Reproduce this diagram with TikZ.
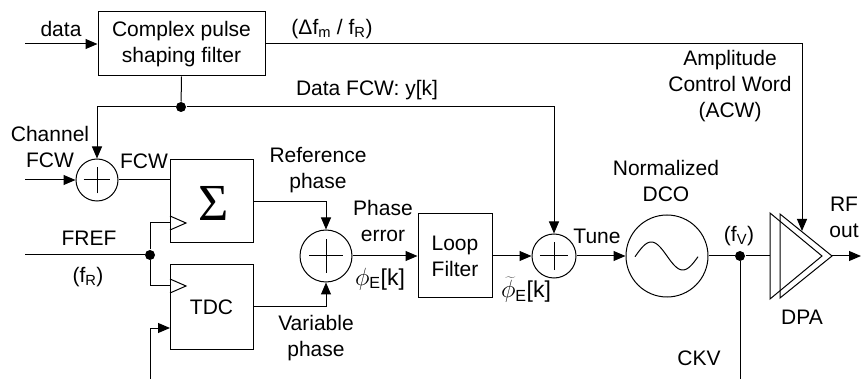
\documentclass[tikz,border=0pt]{standalone}
\usepackage{fontspec}
\setmainfont{Liberation Sans}
\newfontfamily\sigfont{Liberation Serif}
\usetikzlibrary{arrows.meta}
\tikzset{
  blk/.style={draw, inner sep=0},
  dot/.style={circle, fill, inner sep=0, minimum size=10pt},
  lbl/.style={inner sep=0, align=center},
  sumnode/.style={draw, circle, inner sep=0, minimum size=#1,
    path picture={\draw ([xshift=-0.32*#1]path picture bounding box.center) -- ([xshift=0.32*#1]path picture bounding box.center)
      ([yshift=-0.32*#1]path picture bounding box.center) -- ([yshift=0.32*#1]path picture bounding box.center);}},
}
\begin{document}
\begin{tikzpicture}[x=1pt, y=-1pt, line width=1pt, >={Triangle[length=12pt,width=10pt]},
  font=\fontsize{21}{26}\selectfont]
\useasboundingbox (0,0) rectangle (862,379);
% blocks
\node[blk, minimum width=167pt, minimum height=64pt, align=center] (filt) at (181.5,44) {Complex pulse\\shaping filter};
\node[blk, minimum size=83pt] (acc) at (211.5,201.5) {};
\node[inner sep=0] (sig) at (214,203) {\sigfont\fontsize{52}{52}\selectfont Σ};
\node[blk, minimum width=83pt, minimum height=84pt] (tdc) at (211.5,307) {TDC};
\node[blk, minimum width=74pt, minimum height=84pt, align=center] (lf) at (455,256) {Loop\\Filter};
\node[sumnode=42pt] (add1) at (97,180) {};
\node[sumnode=52pt] (pd) at (326,256) {};
\node[sumnode=44pt] (add2) at (554,256) {};
\node[draw, circle, inner sep=0, minimum size=82pt] (dco) at (667,256) {};
\draw[shift={(dco.center)}] plot[domain=-32:31, samples=50, smooth] (\x, {14*sin(\x*360/63)});
\draw (770,213) -- (822,256) -- (770,299) -- cycle;
\draw (780,214) -- (832,256) -- (780,298) -- cycle;
\node[dot] (d1) at (181,107) {};
\node[dot] (d2) at (150,255) {};
\node[dot] (d3) at (740,256) {};
% free ends
\coordinate (datain) at (25,44);
\coordinate (chin) at (25,180);
\coordinate (frefin) at (25,255);
\coordinate (acwturn) at (802,44);
\coordinate (acwin) at (802,231);
\coordinate (clk1) at (170,223);
\coordinate (clk2) at (170,286);
\coordinate (tdcin) at (170,328);
\coordinate (ckvin) at (150,379);
\coordinate (ckvout) at (740,379);
\coordinate (dpain) at (770,256);
\coordinate (dpaout) at (832,256);
\coordinate (rfout) at (861,256);
% connections
\draw[->] (datain) -- (filt.west);
\draw[->] (filt.east) -- (acwturn) -- (acwin);
\draw (filt.south) -- (d1);
\draw[->] (d1) -| (add1.north);
\draw[->] (d1) -| (add2.north);
\draw[->] (chin) -- (add1.west);
\draw (add1.east) -- (acc.west |- add1.east);
\draw (frefin) -- (d2);
\draw (d2) |- (clk1);
\draw (d2) |- (clk2);
\draw ([yshift=7pt]clk1) -- ([xshift=16pt]clk1) -- ([yshift=-7pt]clk1);
\draw ([yshift=7pt]clk2) -- ([xshift=16pt]clk2) -- ([yshift=-7pt]clk2);
\draw[->] (ckvin) |- (tdcin);
\draw[->] (acc.east) -| (pd.north);
\draw[->] (tdc.east) -| (pd.south);
\draw[->] (pd.east) -- (lf.west);
\draw[->] (lf.east) -- (add2.west);
\draw[->] (add2.east) -- (dco.west);
\draw (dco.east) -- (d3) -- (dpain);
\draw (d3) -- (ckvout);
\draw[->] (dpaout) -- (rfout);
% labels
\node[lbl] (ldata) at (61,29) {data};
\node[lbl] (ldf) at (332,29) {(Δf\textsubscript{m} / f\textsubscript{R})};
\node[lbl] (lyk) at (367,90) {Data FCW: y[k]};
\node[lbl] (lacw) at (730,86) {Amplitude\\Control Word\\(ACW)};
\node[lbl] (lch) at (50,147) {Channel\\FCW};
\node[lbl] (lfcw) at (144,161) {FCW};
\node[lbl] (lref) at (318,170) {Reference\\phase};
\node[lbl] (lfref) at (89,238) {FREF};
\node[lbl] (lfr) at (88,277) {(f\textsubscript{R})};
\node[lbl] (lvar) at (316,338) {Variable\\phase};
\node[lbl] (lerr) at (383,221) {Phase\\error};
\node[lbl] (lphi) at (380,279) {\fontsize{23}{23}\selectfont$\phi$\textsubscript{E}[k]};
\node[lbl] (lphit) at (526,290) {\fontsize{23}{23}\selectfont$\widetilde{\phi}$\textsubscript{E}[k]};
\node[lbl] (ltune) at (597,236) {Tune};
\node[lbl] (ldco) at (666,181) {Normalized\\DCO};
\node[lbl] (lfv) at (739,236) {(f\textsubscript{V})};
\node[lbl] (lrf) at (844,217) {RF\\out};
\node[lbl] (ldpa) at (802,317) {DPA};
\node[lbl] (lckv) at (699,358) {CKV};
\end{tikzpicture}
\end{document}
